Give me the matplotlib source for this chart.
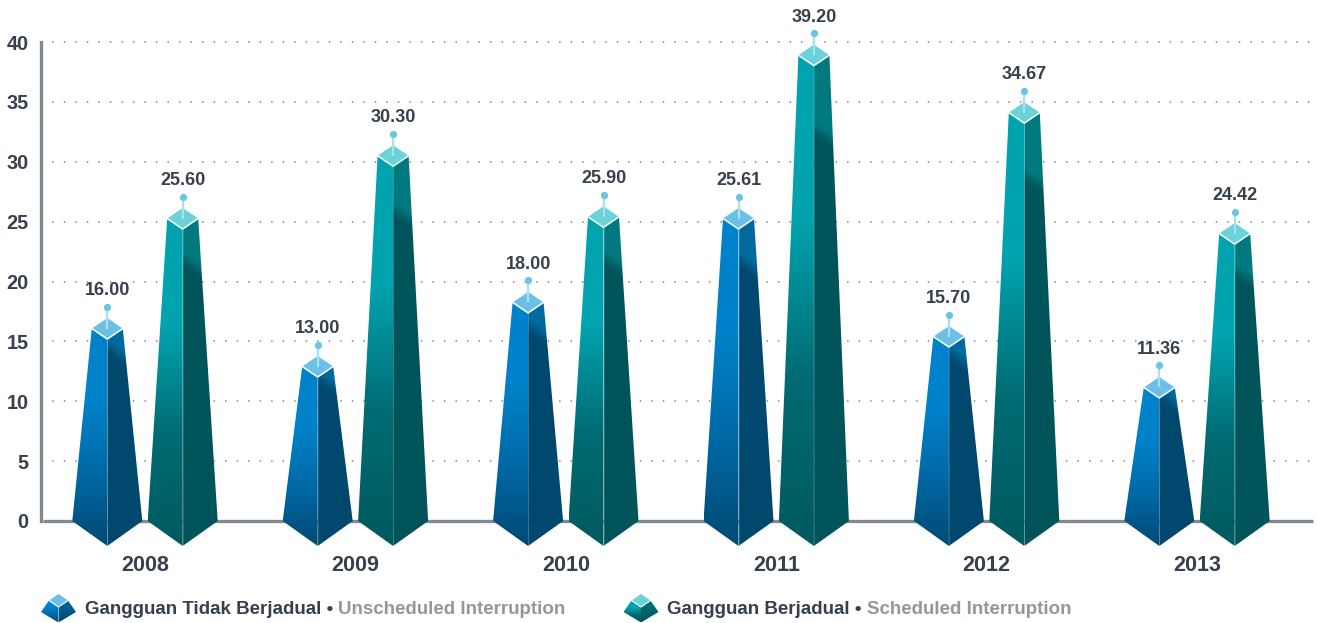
import numpy as np
import matplotlib
matplotlib.use('Agg')
import matplotlib.pyplot as plt
from matplotlib.colors import LinearSegmentedColormap
from matplotlib.patches import Polygon

years = ['2008', '2009', '2010', '2011', '2012', '2013']
# bar heights as drawn in the picture (the artwork does not follow its labels exactly)
unscheduled = [16.07, 12.9, 18.25, 25.26, 15.4, 11.15]
scheduled = [25.26, 30.5, 25.4, 38.9, 34.1, 24.0]
unscheduled_labels = ['16.00', '13.00', '18.00', '25.61', '15.70', '11.36']
scheduled_labels = ['25.60', '30.30', '25.90', '39.20', '34.67', '24.42']
y_ticks = [0, 5, 10, 15, 20, 25, 30, 35, 40]

W, H = 1317, 623
DARK = '#36414d'
GREY = '#8f99a1'
AXIS = '#7f8a93'
FONT = 'Liberation Sans'

blue = dict(left=['#004a74', '#0069a6', '#0082cb', '#0082cb'], right=['#00486e', '#006a9e'],
            top='#6cc0e8')
teal = dict(left=['#005a60', '#006a72', '#00a3ae', '#00a3ae'], right=['#00545a', '#00797f'],
            top='#6ad2d8')

fig = plt.figure(figsize=(W / 100, H / 100), dpi=100)
ax = fig.add_axes([41 / W, (H - 521) / H, (1313 - 41) / W, 479 / H])
px_x = 210.4
ax.set_xlim((41 - 145) / px_x, (1313 - 145) / px_x)
ax.set_ylim(0, 40)
ax.patch.set_alpha(0)
px_y = 479 / 40


def shade(a, pts, cols, img, zorder=3):
    # gradient picture clipped to one face of the bar
    xs = [p[0] for p in pts]
    ys = [p[1] for p in pts]
    cmap = LinearSegmentedColormap.from_list('c', cols)
    im = a.imshow(img, cmap=cmap, vmin=0, vmax=1, origin='lower', aspect='auto', zorder=zorder,
                  extent=[min(xs), max(xs), min(ys), max(ys)], interpolation='bilinear')
    poly = Polygon(pts, closed=True, transform=a.transData, facecolor='none', edgecolor='none')
    a.add_patch(poly)
    im.set_clip_box(fig.bbox)
    im.set_clip_path(poly)
    return im


def draw_bar(x, value, label, st):
    hw = 35 / px_x
    tw = 15.5 / px_x
    dh = 10.5 / px_y
    tip = 25 / px_y
    left = [(x - hw, 0), (x - tw, value), (x, value - dh), (x, -tip)]
    right = [(x + hw, 0), (x + tw, value), (x, value - dh), (x, -tip)]

    yy = np.linspace(0, 1, 200)[:, None] * np.ones((200, 2))
    shade(ax, left, st['left'], yy)

    # dark lower part with a slanted edge to the lighter top of the right face
    gx, gy = np.meshgrid(np.linspace(0, 1, 60), np.linspace(0, 1, 400))
    span = value - dh + tip
    edge = (0.8 * value + tip) / span - (gx - 0.5) * (22 / px_y) / span
    img = np.clip((gy - edge) / (14 / px_y / span) + 0.5, 0, 1)
    shade(ax, right, st['right'], img)

    ax.plot([x, x], [-tip, value - dh], color='#ffffff', alpha=0.15, lw=0.7, zorder=4, clip_on=False,
            solid_capstyle='butt')

    diamond = [(x - tw, value), (x, value + dh), (x + tw, value), (x, value - dh)]
    ax.add_patch(Polygon(diamond, closed=True, facecolor=st['top'], edgecolor='none', zorder=5, clip_on=False))
    ax.plot([x - tw, x, x + tw], [value, value - dh, value], color='white', lw=1.1, zorder=6, clip_on=False,
            solid_joinstyle='miter')

    # pin above the top
    ax.plot([x, x], [value, value + 21 / px_y], color='#a8e2ea', lw=1.6, zorder=7, clip_on=False,
            solid_capstyle='butt')
    ax.plot([x], [value + 22 / px_y], marker='o', ms=5.2, color='#6cc3e8', mec='none', zorder=8, clip_on=False)
    ax.text(x, value + 38 / px_y, label, ha='center', va='center', fontsize=13, color=DARK,
            family=FONT, weight='bold', zorder=9, clip_on=False)


for t in y_ticks[1:]:
    ax.plot([(53 - 145) / px_x, (1313 - 145) / px_x], [t, t], color='#7f8a93', lw=1.3,
            ls=(0, (0.01, 6.37)), dash_capstyle='round', zorder=1, clip_on=False)

off = 37.7 / px_x
for i, year in enumerate(years):
    draw_bar(i - off, unscheduled[i], unscheduled_labels[i], blue)
    draw_bar(i + off, scheduled[i], scheduled_labels[i], teal)

ax.set_xlim((41 - 145) / px_x, (1313 - 145) / px_x)
ax.set_ylim(0, 40)

for s in ('top', 'right', 'bottom'):
    ax.spines[s].set_visible(False)
ax.spines['left'].set_linewidth(2.4)
ax.spines['left'].set_color(AXIS)
ax.plot([2 / px_x + (41 - 145) / px_x, (1313 - 145) / px_x], [0, 0], color=AXIS, lw=2.4, zorder=2,
        clip_on=False, solid_capstyle='butt')

ax.set_xticks(range(len(years)))
ax.set_xticklabels(years, fontsize=15.5, fontweight='bold', color=DARK, family=FONT)
ax.tick_params(axis='x', length=0, pad=24.5)
ax.set_yticks(y_ticks)
ax.set_yticklabels([str(t) for t in y_ticks], fontsize=14.3, fontweight='bold', color=DARK, family=FONT)
ax.tick_params(axis='y', length=0, pad=9)

# legend, drawn in pixel coordinates
lg = fig.add_axes([0, 0, 1, 1])
lg.set_xlim(0, W)
lg.set_ylim(H, 0)
lg.axis('off')


def legend_icon(cx, st):
    yy = np.linspace(1, 0, 50)[:, None] * np.ones((50, 2))
    left = [(cx - 17.5, 612), (cx - 9.5, 600.5), (cx, 607), (cx, 622.5)]
    right = [(cx + 17.5, 612), (cx + 9.5, 600.5), (cx, 607), (cx, 622.5)]
    shade(lg, left, st['left'], yy)
    shade(lg, right, st['right'], yy)
    lg.add_patch(Polygon([(cx - 9.5, 600.5), (cx, 594), (cx + 9.5, 600.5), (cx, 607)], closed=True,
                         facecolor=st['top'], edgecolor='none', zorder=5))
    lg.plot([cx - 9.5, cx, cx + 9.5], [600.5, 607, 600.5], color='white', lw=0.8, zorder=6)


def legend_text(x, first, second):
    t = lg.text(x, 609.5, first + ' \u2022 ', color=DARK, fontsize=13.5, family=FONT, weight='bold',
                va='center', ha='left')
    fig.canvas.draw()
    bb = t.get_window_extent()
    lg.text(bb.x1, 609.5, second, color=GREY, fontsize=13.5, family=FONT, weight='bold', va='center',
            ha='left')


legend_icon(58.5, blue)
legend_text(85, 'Gangguan Tidak Berjadual', 'Unscheduled Interruption')
legend_icon(641, teal)
legend_text(667, 'Gangguan Berjadual', 'Scheduled Interruption')
lg.set_xlim(0, W)
lg.set_ylim(H, 0)

fig.savefig('out.png', dpi=100, facecolor='white')
